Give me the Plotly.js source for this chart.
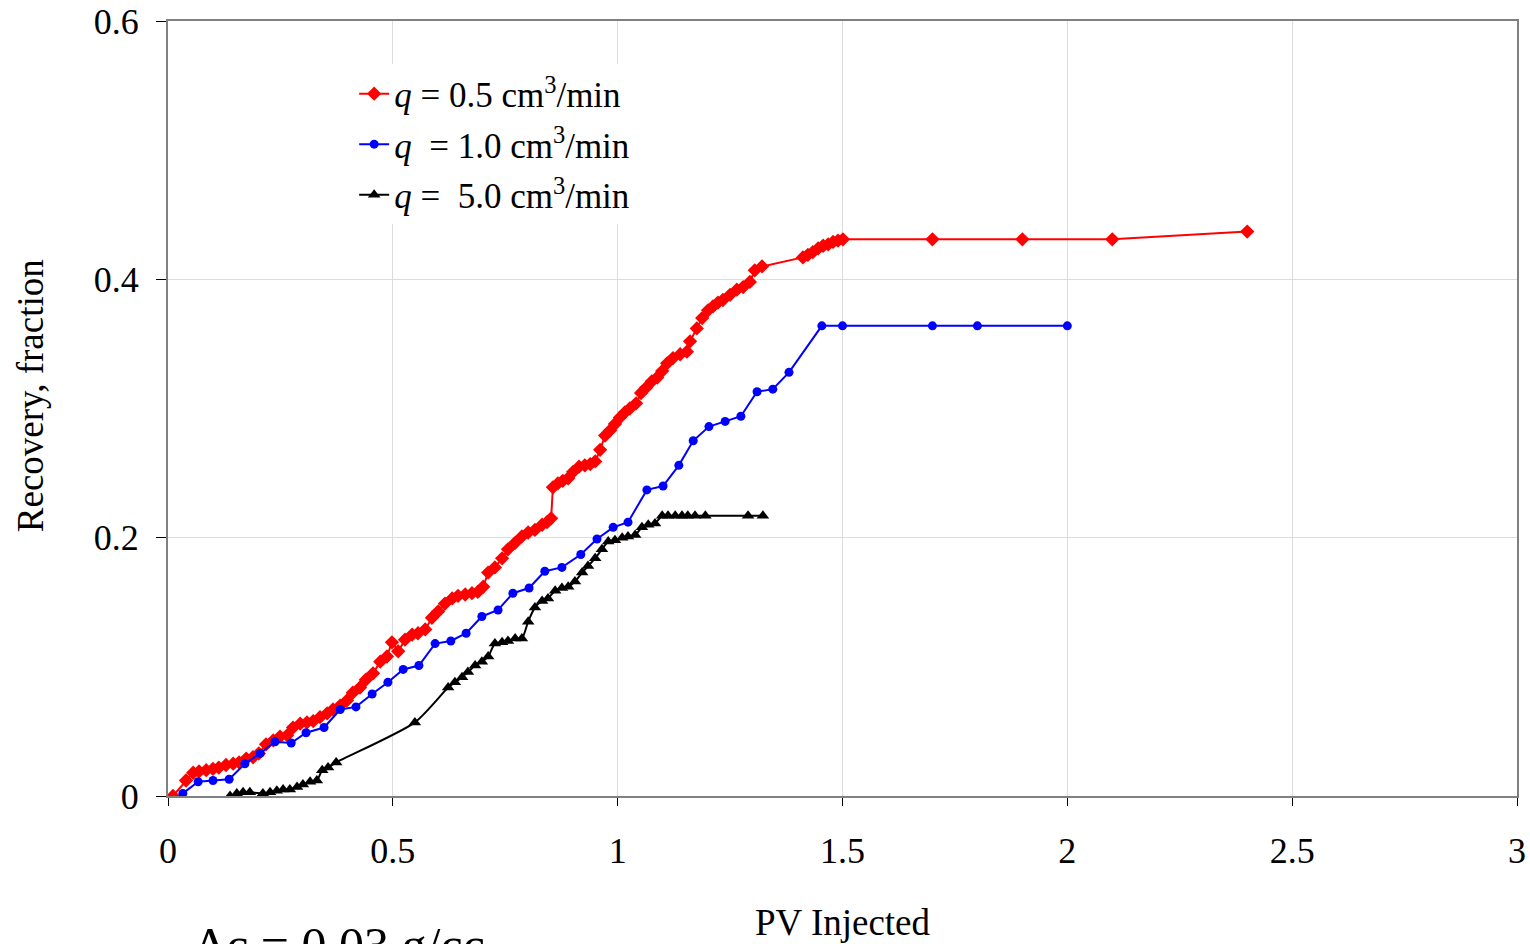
<!DOCTYPE html>
<html>
<head>
<meta charset="utf-8">
<script src="https://cdn.plot.ly/plotly-3.0.1.min.js"></script>
<style>html,body{margin:0;padding:0;background:#fff;}#chart{width:1530px;height:944px;}</style>
</head>
<body>
<div id="chart"></div>
<script>
// q = 0.5 cm3/min
var q05_pv = [0.011,0.040,0.056,0.069,0.085,0.100,0.113,0.129,0.145,0.158,0.174,0.189,0.202,0.218,0.234,0.249,0.265,0.278,0.294,0.309,0.323,0.338,0.354,0.367,0.383,0.398,0.411,0.427,0.440,0.456,0.472,0.487,0.498,0.512,0.527,0.543,0.556,0.572,0.587,0.601,0.616,0.632,0.645,0.661,0.676,0.689,0.701,0.712,0.727,0.743,0.756,0.772,0.787,0.801,0.816,0.832,0.843,0.852,0.856,0.867,0.878,0.890,0.901,0.914,0.927,0.939,0.950,0.961,0.972,0.983,0.994,1.005,1.016,1.027,1.041,1.052,1.063,1.076,1.088,1.099,1.110,1.123,1.139,1.154,1.161,1.176,1.188,1.201,1.212,1.223,1.234,1.250,1.265,1.279,1.294,1.305,1.321,1.412,1.423,1.434,1.446,1.457,1.468,1.479,1.490,1.501,1.700,1.900,2.100,2.400];
var q05_rec = [0.000,0.012,0.018,0.019,0.020,0.021,0.022,0.024,0.025,0.026,0.029,0.030,0.033,0.040,0.043,0.046,0.047,0.053,0.056,0.057,0.058,0.061,0.064,0.067,0.070,0.074,0.080,0.084,0.090,0.095,0.104,0.108,0.119,0.112,0.121,0.125,0.126,0.129,0.138,0.143,0.149,0.153,0.155,0.156,0.157,0.158,0.162,0.173,0.177,0.184,0.191,0.196,0.201,0.204,0.206,0.210,0.212,0.215,0.239,0.242,0.244,0.246,0.251,0.255,0.256,0.257,0.259,0.268,0.279,0.283,0.288,0.293,0.297,0.300,0.304,0.312,0.316,0.321,0.324,0.329,0.335,0.339,0.342,0.344,0.352,0.362,0.370,0.376,0.379,0.382,0.384,0.388,0.392,0.394,0.398,0.407,0.410,0.417,0.419,0.421,0.424,0.426,0.427,0.429,0.430,0.431,0.431,0.431,0.431,0.437];

// q = 1.0 cm3/min
var q10_pv = [0.033,0.067,0.100,0.136,0.171,0.205,0.238,0.274,0.307,0.347,0.383,0.418,0.454,0.489,0.523,0.558,0.594,0.629,0.663,0.698,0.734,0.767,0.803,0.838,0.876,0.918,0.954,0.990,1.023,1.065,1.101,1.136,1.168,1.203,1.239,1.274,1.310,1.345,1.381,1.454,1.500,1.700,1.800,2.000];
var q10_rec = [0.002,0.011,0.012,0.013,0.025,0.033,0.042,0.041,0.049,0.053,0.067,0.069,0.079,0.088,0.098,0.101,0.118,0.120,0.126,0.139,0.144,0.157,0.161,0.174,0.177,0.187,0.199,0.208,0.212,0.237,0.240,0.256,0.275,0.286,0.290,0.294,0.313,0.315,0.328,0.364,0.364,0.364,0.364,0.364];

// q = 5.0 cm3/min
var q50_pv = [0.138,0.153,0.167,0.182,0.211,0.227,0.242,0.256,0.271,0.287,0.300,0.316,0.331,0.343,0.356,0.374,0.549,0.623,0.638,0.654,0.667,0.683,0.698,0.712,0.727,0.743,0.756,0.772,0.787,0.801,0.816,0.832,0.845,0.861,0.876,0.890,0.905,0.921,0.934,0.950,0.965,0.979,0.994,1.010,1.023,1.039,1.054,1.068,1.083,1.099,1.112,1.128,1.143,1.156,1.172,1.195,1.290,1.323];
var q50_rec = [0.000,0.002,0.003,0.003,0.002,0.003,0.004,0.005,0.005,0.007,0.009,0.011,0.012,0.020,0.022,0.026,0.057,0.084,0.088,0.092,0.096,0.101,0.104,0.108,0.118,0.119,0.120,0.122,0.122,0.135,0.146,0.151,0.153,0.159,0.161,0.162,0.166,0.173,0.178,0.184,0.191,0.197,0.198,0.200,0.201,0.202,0.208,0.210,0.211,0.217,0.217,0.217,0.217,0.217,0.217,0.217,0.217,0.217];

var seriesNames = ['<i>q</i> = 0.5 cm<sup>3</sup>/min', '<i>q</i>\u00a0 = 1.0 cm<sup>3</sup>/min', '<i>q</i> =\u00a0 5.0 cm<sup>3</sup>/min'];
var xTitle = 'PV Injected';
var yTitle = 'Recovery, fraction';
var noteText = '\u0394c = 0.03 g/cc';

var serif = 'Liberation Serif, Times New Roman, serif';

var traces = [
  {x: q05_pv, y: q05_rec, name: seriesNames[0], mode: 'lines+markers', legendgroup: 'a',
   line: {color: '#ff0000', width: 2}, marker: {symbol: 'diamond', size: 11, color: '#ff0000'}},
  {x: q10_pv, y: q10_rec, name: seriesNames[1], mode: 'lines+markers', legendgroup: 'b',
   line: {color: '#0000ff', width: 2}, marker: {symbol: 'circle', size: 9, color: '#0000ff'}},
  {x: q50_pv, y: q50_rec, name: seriesNames[2], mode: 'lines+markers', legendgroup: 'c',
   line: {color: '#000000', width: 2, shape: 'spline', smoothing: 0.7}, marker: {symbol: 'triangle-up', size: 11, color: '#000000'}}
];

var layout = {
  width: 1530, height: 944,
  margin: {l: 168, r: 13, t: 21, b: 148},
  paper_bgcolor: '#ffffff', plot_bgcolor: '#ffffff',
  font: {family: serif, size: 36, color: '#000000'},
  showlegend: true,
  legend: {x: 0.138, y: 0.944, xanchor: 'left', yanchor: 'top', bgcolor: '#ffffff',
           font: {family: serif, size: 35, color: '#000000'}, tracegroupgap: 2, traceorder: 'grouped',
           itemwidth: 30},
  xaxis: {range: [0, 3], dtick: 0.5, tick0: 0, showgrid: true, gridcolor: '#dcdcdc', gridwidth: 1,
          zeroline: false, showline: true, linecolor: '#808080', linewidth: 2, mirror: true,
          ticks: 'outside', ticklen: 8, tickcolor: '#000000', tickwidth: 1, ticklabelstandoff: 14,
          tickfont: {family: serif, size: 36}},
  yaxis: {range: [0, 0.6], dtick: 0.2, tick0: 0, showgrid: true, gridcolor: '#dcdcdc', gridwidth: 1,
          zeroline: false, showline: true, linecolor: '#808080', linewidth: 2, mirror: true,
          ticks: 'outside', ticklen: 10, tickcolor: '#000000', tickwidth: 1, ticklabelstandoff: 10,
          tickfont: {family: serif, size: 36}},
  annotations: [
    {text: xTitle, xref: 'paper', yref: 'paper', x: 0.5, y: -0.134, xanchor: 'center', yanchor: 'top',
     showarrow: false, font: {family: serif, size: 37, color: '#000000'}},
    {text: yTitle, xref: 'paper', yref: 'paper', x: -0.1024, y: 0.517, xanchor: 'center', yanchor: 'middle',
     textangle: -90, showarrow: false, font: {family: serif, size: 37, color: '#000000'}},
    {text: noteText, xref: 'paper', yref: 'paper', x: 0.018, y: -0.153, xanchor: 'left', yanchor: 'top',
     showarrow: false, font: {family: serif, size: 50, color: '#000000'}}
  ]
};

Plotly.newPlot('chart', traces, layout, {displayModeBar: false, staticPlot: true});
</script>
</body>
</html>
